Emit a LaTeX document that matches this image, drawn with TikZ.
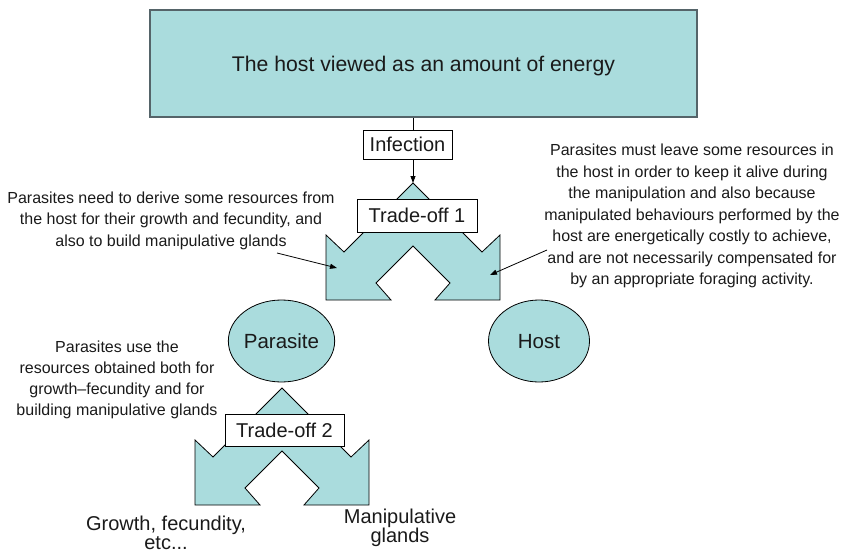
\documentclass[tikz,border=0pt]{standalone}
\usepackage{fontspec}
\setmainfont{Liberation Sans}
\usetikzlibrary{arrows.meta,shapes.geometric}
\definecolor{tealfill}{RGB}{170,220,221}
\definecolor{edgegray}{RGB}{85,100,105}
\definecolor{ink}{RGB}{26,26,26}
\tikzset{
  shapefill/.style={fill=tealfill, draw=black, line width=0.8pt, line join=miter},
  labelbox/.style={draw=black, fill=white, line width=0.8pt, inner sep=0pt,
    text=ink, font=\fontsize{20}{24}\selectfont, text height=14.4pt, text depth=0pt},
  blob/.style={ellipse, fill=tealfill, draw=black, line width=0.8pt, inner sep=0pt,
    minimum width=101pt, minimum height=82pt, text=ink,
    font=\fontsize{20.5}{24}\selectfont, text height=14.8pt, text depth=0pt},
  note/.style={align=center, inner sep=0pt, anchor=north, text=ink,
    font=\fontsize{16}{21.5}\selectfont},
  bignote/.style={align=center, inner sep=0pt, anchor=north, text=ink,
    font=\fontsize{20}{19.5}\selectfont},
  pointer/.style={draw=black, line width=0.8pt, -{Triangle[length=7pt,width=5pt]}},
  splitarrow/.pic={
    \path[shapefill] (0,0) -- (69,69) -- (87,52) -- (87,117) -- (22,117) -- (37,100)
      -- (0,63) -- (-37,100) -- (-22,117) -- (-87,117) -- (-87,52) -- (-69,69) -- cycle;
  }
}
\begin{document}
\begin{tikzpicture}[x=1pt,y=-1pt]
\useasboundingbox (0,0) rectangle (843,554);

% title box
\node[draw=edgegray, line width=1.6pt, fill=tealfill, minimum width=547pt, minimum height=107pt,
  inner sep=0pt, text=ink, font=\fontsize{21.2}{25}\selectfont, text height=15.2pt, text depth=0pt]
  (title) at (423.5,63.5) {The host viewed as an amount of energy};

% split arrows
\coordinate (apex1) at (413,183);
\coordinate (apex2) at (282,388);
\pic (sa1) at (apex1) {splitarrow};
\pic (sa2) at (apex2) {splitarrow};

% label boxes
\node[labelbox, minimum width=89pt, minimum height=29pt] (infection) at (407.5,144.5) {Infection};
\node[labelbox, minimum width=120pt, minimum height=33pt] (trade1) at (417,215.5) {Trade-off 1};
\node[labelbox, minimum width=119pt, minimum height=32pt] (trade2) at (284.5,430) {Trade-off 2};

% ellipses
\node[blob] (parasite) at (281.5,341) {Parasite};
\node[blob] (host) at (539,341) {Host};

% connectors
\draw[line width=0.8pt] (title.south -| apex1) -- (infection.north -| apex1);
\draw[pointer] (infection.south -| apex1) -- (apex1);

% annotations
\node[note] (noteleft) at (171,191.5) {Parasites need to derive some resources from\\
the host for their growth and fecundity, and\\
also to build manipulative glands};
\node[note] (noteright) at (692,144) {Parasites must leave some resources in\\
the host in order to keep it alive during\\
the manipulation and also because\\
manipulated behaviours performed by the\\
host are energetically costly to achieve,\\
and are not necessarily compensated for\\
by an appropriate foraging activity.};
\node[note, font=\fontsize{16}{21}\selectfont] (noteparasite) at (117,340.5) {Parasites use the\\
resources obtained both for\\
growth--fecundity and for\\
building manipulative glands};

\coordinate (la0) at (277,253);
\coordinate (la1) at (337,268);
\coordinate (ra0) at (547,250);
\coordinate (ra1) at (490,275);
\draw[pointer] (la0) -- (la1);
\draw[pointer] (ra0) -- (ra1);

% outcomes
\node[bignote] (growth) at (166,515.5) {Growth, fecundity,\\etc...};
\node[bignote] (glands) at (400,508.5) {Manipulative\\glands};
\end{tikzpicture}
\end{document}
